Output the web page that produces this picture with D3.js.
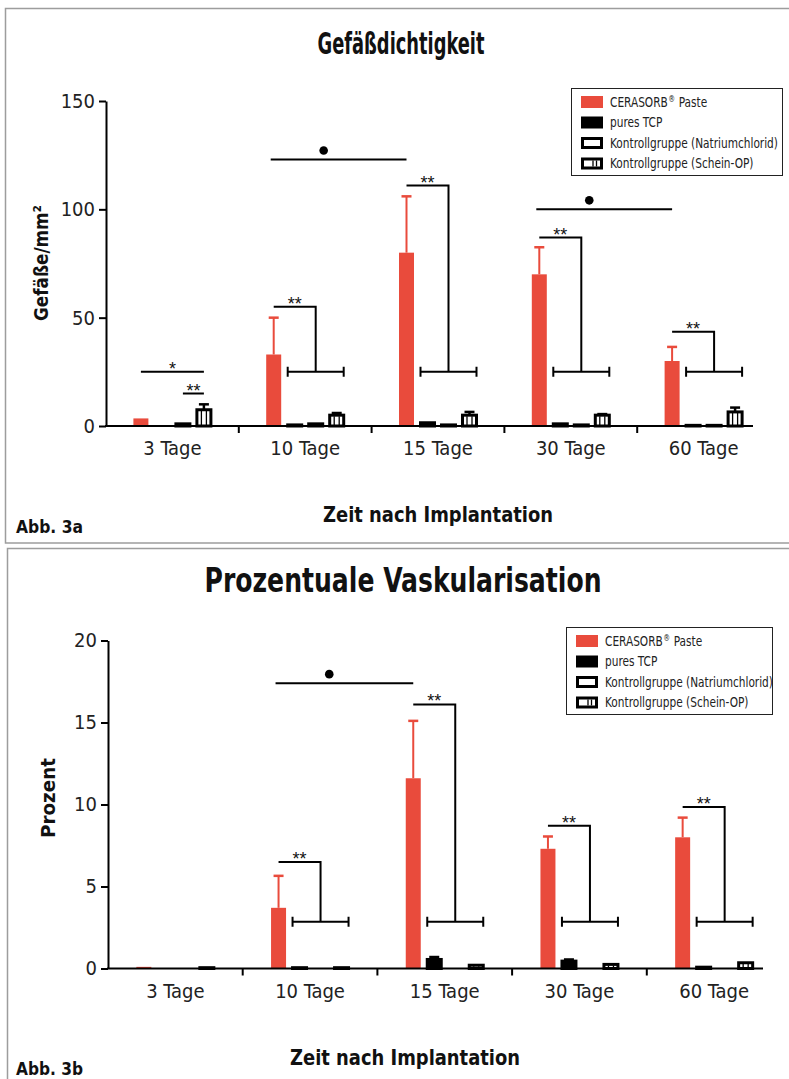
<!DOCTYPE html>
<html lang="de">
<head>
  <meta charset="UTF-8" />
  <title>Gefäßdichtigkeit / Prozentuale Vaskularisation</title>
  <script src="https://d3js.org/d3.v7.min.js"></script>
  <style>
    body {
      margin: 0;
      background: #fff;
    }
    svg {
      display: block;
    }
  </style>
</head>
<body>
  <div id="chart"></div>
  <script>
    // categories and series
    const groups = ["3 Tage", "10 Tage", "15 Tage", "30 Tage", "60 Tage"];
    const seriesNames = ["CERASORB® Paste", "pures TCP", "Kontrollgruppe (Natriumchlorid)", "Kontrollgruppe (Schein-OP)"];

    // Abb. 3a - Gefäßdichtigkeit (Gefäße/mm²)
    const densityCerasorb = [3.5, 33, 80, 70, 30];
    const densityCerasorbErr = [0, 17, 26, 12.5, 6.5];
    const densityTcp = [null, 0.5, 1.5, 1, 0.3];
    const densityTcpErr = [0, 0, 0, 0, 0];
    const densityNacl = [1, 1, 0.5, 0.5, 0.3];
    const densityNaclErr = [0, 0, 0, 0, 0];
    const densitySham = [7.5, 5, 5, 5, 6.5];
    const densityShamErr = [2.5, 1, 1.5, 0.5, 2];
    const densityTicks = [0, 50, 100, 150];
    const densityBrackets = [
      { group: 1, top: 55, base: 25, label: "**" },
      { group: 2, top: 111, base: 25, label: "**" },
      { group: 3, top: 87, base: 25, label: "**" },
      { group: 4, top: 43.5, base: 25, label: "**" }
    ];
    const densityLines = [
      { group: 0, from: 0, to: 3, y: 25, label: "*" },
      { group: 0, from: 2, to: 3, y: 15, label: "**" }
    ];
    const densityDots = [
      { from: 1, to: 2, y: 123 },
      { from: 3, to: 4, y: 100 }
    ];

    // Abb. 3b - Prozentuale Vaskularisation (Prozent)
    const vascCerasorb = [0.1, 3.7, 11.6, 7.3, 8.0];
    const vascCerasorbErr = [0, 1.95, 3.5, 0.75, 1.2];
    const vascTcp = [null, 0.05, 0.55, 0.45, 0.08];
    const vascTcpErr = [0, 0, 0.15, 0.1, 0];
    const vascNacl = [null, null, 0, 0, 0];
    const vascNaclErr = [0, 0, 0, 0, 0];
    const vascSham = [0.05, 0.05, 0.2, 0.25, 0.35];
    const vascShamErr = [0, 0, 0, 0, 0];
    const vascTicks = [0, 5, 10, 15, 20];
    const vascBrackets = [
      { group: 1, top: 6.5, base: 2.85, label: "**" },
      { group: 2, top: 16.1, base: 2.85, label: "**" },
      { group: 3, top: 8.7, base: 2.85, label: "**" },
      { group: 4, top: 9.85, base: 2.85, label: "**" }
    ];
    const vascLines = [];
    const vascDots = [
      { from: 1, to: 2, y: 17.4 }
    ];

    const red = "#e94b3c";
    const narrow = "'Liberation Sans Narrow', 'DejaVu Sans Condensed', 'Arial Narrow', sans-serif";

    const W = 789, H = 1079;
    const svg = d3.select("#chart").append("svg")
      .attr("width", W)
      .attr("height", H);

    // panel frames
    svg.append("rect").attr("x", 5.5).attr("y", 8.5).attr("width", 800).attr("height", 534.5)
      .attr("fill", "none").attr("stroke", "#9d9d9d").attr("stroke-width", 1.5);
    svg.append("rect").attr("x", 7.5).attr("y", 548.5).attr("width", 800).attr("height", 600)
      .attr("fill", "none").attr("stroke", "#9d9d9d").attr("stroke-width", 1.5);

    function label(x, y, str, size, len, opts = {}) {
      const t = svg.append("text")
        .attr("x", x)
        .attr("y", y)
        .attr("font-family", narrow)
        .attr("font-weight", "bold")
        .attr("font-size", size)
        .attr("fill", "#111")
        .attr("text-anchor", opts.anchor || "middle")
        .attr("textLength", len)
        .attr("lengthAdjust", "spacingAndGlyphs")
        .text(str);
      if (opts.rotate) t.attr("transform", `rotate(-90,${x},${y})`);
      return t;
    }

    function drawPanel(cfg) {
      const g = svg.append("g");
      const x = d3.scaleBand().domain(groups).range([cfg.left, cfg.right]);
      const xs = d3.scaleBand().domain(seriesNames).range([-42, 42]);
      const y = d3.scaleLinear().domain([0, cfg.ticks[cfg.ticks.length - 1]]).range([cfg.bottom, cfg.top]);
      const cx = (gi, si) => x(groups[gi]) + x.bandwidth() / 2 + xs(seriesNames[si]) + xs.bandwidth() / 2;

      const rows = [];
      groups.forEach((grp, i) => {
        seriesNames.forEach((s, j) => {
          const v = cfg.values[j][i];
          if (v == null) return;
          rows.push({ i, j, v, e: cfg.errors[j][i] });
        });
      });

      // error bars
      const errRows = rows.filter(d => d.e > 0);
      g.selectAll("line.err").data(errRows).enter().append("line")
        .attr("x1", d => cx(d.i, d.j)).attr("x2", d => cx(d.i, d.j))
        .attr("y1", d => y(d.v)).attr("y2", d => y(d.v + d.e))
        .attr("stroke", d => d.j === 0 ? red : "#000")
        .attr("stroke-width", d => d.j === 0 ? 2 : 2.5);
      g.selectAll("line.cap").data(errRows).enter().append("line")
        .attr("x1", d => cx(d.i, d.j) - 5).attr("x2", d => cx(d.i, d.j) + 5)
        .attr("y1", d => y(d.v + d.e)).attr("y2", d => y(d.v + d.e))
        .attr("stroke", d => d.j === 0 ? red : "#000")
        .attr("stroke-width", 2.5);

      // bars
      g.selectAll("rect.bar").data(rows).enter().append("rect")
        .attr("x", d => cx(d.i, d.j) - (d.j === 0 ? 7.5 : 7))
        .attr("width", d => d.j === 0 ? 15 : 14)
        .attr("y", d => y(d.v))
        .attr("height", d => y(0) - y(d.v))
        .attr("fill", d => d.j === 0 ? red : d.j === 1 ? "#000" : "#fff")
        .attr("stroke", d => d.j === 0 ? "none" : "#000")
        .attr("stroke-width", 3);

      // stripes inside the Schein-OP bars
      const shamRows = rows.filter(d => d.j === 3 && y(0) - y(d.v) > 3);
      [-2.5, 2.5].forEach(off => {
        g.selectAll(null).data(shamRows).enter().append("line")
          .attr("x1", d => cx(d.i, d.j) + off).attr("x2", d => cx(d.i, d.j) + off)
          .attr("y1", d => y(d.v) + 1).attr("y2", y(0))
          .attr("stroke", "#000").attr("stroke-width", 1.3);
      });

      // y axis
      const yAxis = g.append("g")
        .attr("transform", `translate(${cfg.left},0)`)
        .call(d3.axisLeft(y).tickValues(cfg.ticks).tickSize(7).tickSizeOuter(0).tickPadding(4));
      yAxis.select(".domain").attr("stroke-width", 2);
      yAxis.selectAll(".tick line").attr("stroke-width", 2);
      yAxis.selectAll(".tick text")
        .attr("font-family", narrow).attr("font-size", 20).attr("fill", "#222");

      // x axis
      g.append("line")
        .attr("x1", cfg.left - 1).attr("x2", cfg.axisEnd)
        .attr("y1", y(0)).attr("y2", y(0))
        .attr("stroke", "#000").attr("stroke-width", 2);
      g.selectAll("line.xtick").data(groups.slice(1)).enter().append("line")
        .attr("x1", d => x(d)).attr("x2", d => x(d))
        .attr("y1", y(0)).attr("y2", y(0) + 7)
        .attr("stroke", "#000").attr("stroke-width", 2);
      g.selectAll("text.xlab").data(groups).enter().append("text")
        .attr("x", d => x(d) + x.bandwidth() / 2)
        .attr("y", y(0) + 29)
        .attr("text-anchor", "middle")
        .attr("font-family", narrow).attr("font-size", 20).attr("fill", "#222")
        .text(d => d);

      // significance brackets
      cfg.brackets.forEach(b => {
        const l = cx(b.group, 1) - 7, r = cx(b.group, 3) + 7, m = cx(b.group, 2);
        const x0 = cx(b.group, 0);
        const path = d3.path();
        path.moveTo(l, y(b.base) - 5); path.lineTo(l, y(b.base) + 5);
        path.moveTo(l, y(b.base)); path.lineTo(r, y(b.base));
        path.moveTo(r, y(b.base) - 5); path.lineTo(r, y(b.base) + 5);
        path.moveTo(m, y(b.base)); path.lineTo(m, y(b.top)); path.lineTo(x0, y(b.top));
        g.append("path").attr("d", path.toString())
          .attr("stroke", "#000").attr("stroke-width", 2).attr("fill", "none");
        g.append("text")
          .attr("x", (x0 + m) / 2).attr("y", y(b.top) + 3)
          .attr("text-anchor", "middle")
          .attr("font-family", "'Liberation Sans', sans-serif").attr("font-size", 18).attr("fill", "#111")
          .text(b.label);
      });
      cfg.lines.forEach(b => {
        const x0 = cx(b.group, b.from), x1 = cx(b.group, b.to);
        g.append("line").attr("x1", x0).attr("x2", x1).attr("y1", y(b.y)).attr("y2", y(b.y))
          .attr("stroke", "#000").attr("stroke-width", 2);
        g.append("text")
          .attr("x", (x0 + x1) / 2).attr("y", y(b.y) + 3)
          .attr("text-anchor", "middle")
          .attr("font-family", "'Liberation Sans', sans-serif").attr("font-size", 18).attr("fill", "#111")
          .text(b.label);
      });
      cfg.dots.forEach(b => {
        const x0 = cx(b.from, 0) - 3, x1 = cx(b.to, 0);
        g.append("line").attr("x1", x0).attr("x2", x1).attr("y1", y(b.y)).attr("y2", y(b.y))
          .attr("stroke", "#000").attr("stroke-width", 2);
        g.append("circle").attr("cx", x0 + (x1 - x0) * 0.39).attr("cy", y(b.y) - 9).attr("r", 4.3).attr("fill", "#000");
      });

      // legend
      const lg = svg.append("g").attr("transform", `translate(${cfg.legend[0]},${cfg.legend[1]})`);
      lg.append("rect").attr("x", 0.5).attr("y", 0.5).attr("width", cfg.legend[2]).attr("height", 87)
        .attr("fill", "#fff").attr("stroke", "#222").attr("stroke-width", 1);
      const squeeze = 0.84;
      seriesNames.forEach((s, j) => {
        const row = lg.append("g").attr("transform", `translate(10,${8 + j * 20.5})`);
        row.append("rect")
          .attr("x", j === 0 ? 0 : 1.5).attr("y", j === 0 ? 0 : 1.5)
          .attr("width", j === 0 ? 22 : 19).attr("height", j === 0 ? 12 : 9)
          .attr("fill", j === 0 ? red : j === 1 ? "#000" : "#fff")
          .attr("stroke", j === 0 ? "none" : "#000").attr("stroke-width", 3);
        if (j === 3) {
          [12, 15.5].forEach(o => row.append("line").attr("x1", o).attr("x2", o).attr("y1", 3).attr("y2", 9)
            .attr("stroke", "#000").attr("stroke-width", 1.3));
        }
        // condensed text, like the original narrow typeface
        const tg = row.append("g").attr("transform", `translate(29,10.5) scale(${squeeze},1)`);
        const txt = (str, px, size, dy) => tg.append("text").attr("x", px).attr("y", dy || 0)
          .attr("font-family", narrow).attr("font-size", size).attr("fill", "#222").text(str);
        if (s.includes("®")) {
          const [head, tail] = s.split("®");
          const t1 = txt(head, 0, 14);
          const w1 = t1.node().getComputedTextLength();
          const t2 = txt("®", w1 + 0.5, 9, -5);
          const w2 = t2.node().getComputedTextLength();
          txt(tail.trim(), w1 + w2 + 5, 14);
        } else {
          txt(s, 0, 14);
        }
      });
    }

    // Abb. 3a
    label(401, 54, "Gefäßdichtigkeit", 30, 167);
    drawPanel({
      left: 106, right: 770, axisEnd: 753, top: 101, bottom: 426,
      ticks: densityTicks,
      values: [densityCerasorb, densityTcp, densityNacl, densitySham],
      errors: [densityCerasorbErr, densityTcpErr, densityNaclErr, densityShamErr],
      brackets: densityBrackets, lines: densityLines, dots: densityDots,
      legend: [571, 88, 211]
    });
    label(48, 263, "Gefäße/mm²", 20, 116, { rotate: true });
    label(438, 522, "Zeit nach Implantation", 22, 230);
    label(16, 533, "Abb. 3a", 17, 67, { anchor: "start" });

    // Abb. 3b
    label(403, 592, "Prozentuale Vaskularisation", 34, 397);
    drawPanel({
      left: 108, right: 781.5, axisEnd: 763, top: 640.5, bottom: 968.5,
      ticks: vascTicks,
      values: [vascCerasorb, vascTcp, vascNacl, vascSham],
      errors: [vascCerasorbErr, vascTcpErr, vascNaclErr, vascShamErr],
      brackets: vascBrackets, lines: vascLines, dots: vascDots,
      legend: [566, 627, 206]
    });
    label(55, 798, "Prozent", 20, 80, { rotate: true });
    label(405, 1065, "Zeit nach Implantation", 22, 230);
    label(16, 1075, "Abb. 3b", 17, 67, { anchor: "start" });
  </script>
</body>
</html>
